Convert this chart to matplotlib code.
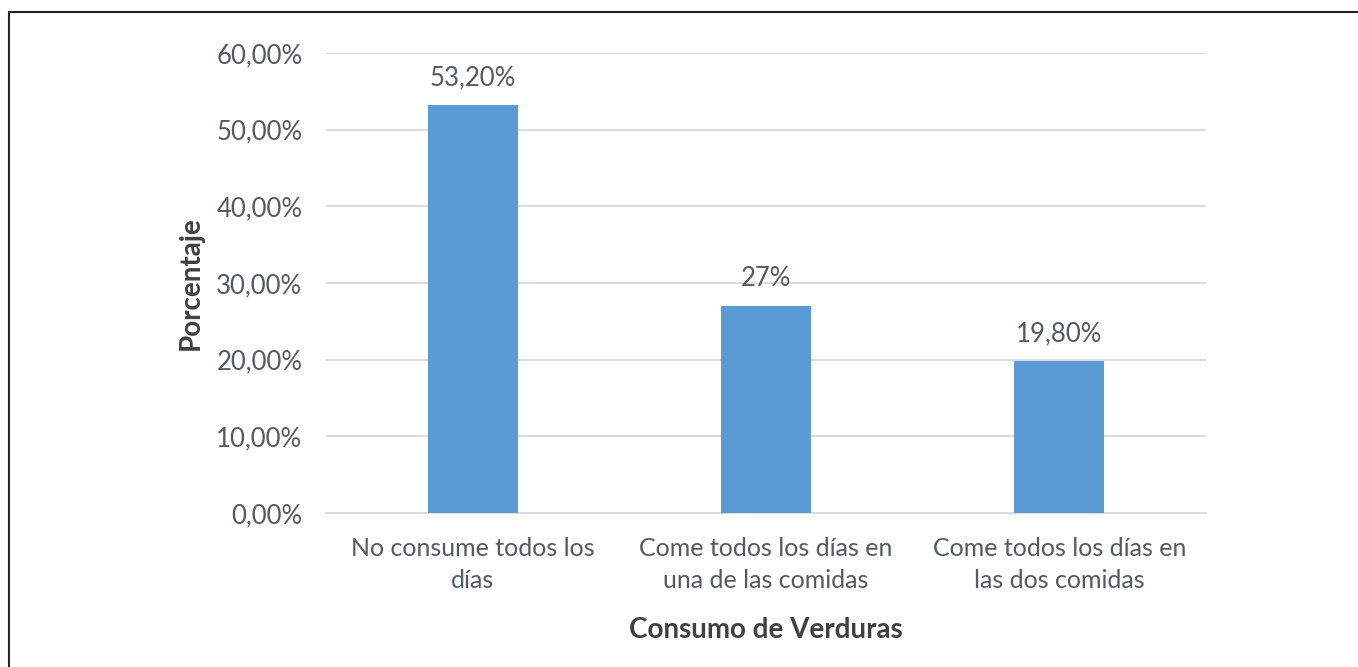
import matplotlib.pyplot as plt
from matplotlib.patches import Rectangle

# consumo de verduras por categoria (porcentaje)
categorias = ["No consume todos los\ndías",
              "Come todos los días en\nuna de las comidas",
              "Come todos los días en\nlas dos comidas"]
valores = [53.2, 27.0, 19.8]
etiquetas = ["53,20%", "27%", "19,80%"]
ticks_y = [0, 10, 20, 30, 40, 50, 60]

plt.rcParams['font.family'] = ['Lato', 'DejaVu Sans']
gris = "#555a5c"

fig = plt.figure(figsize=(13.58, 6.67), dpi=100)
ax = fig.add_axes([326 / 1358, 1 - 513 / 667, 880 / 1358, 460 / 667])

x = list(range(len(categorias)))
ax.bar(x, valores, width=0.307, color="#5B9BD5", zorder=3)
for xi, v, t in zip(x, valores, etiquetas):
    ax.text(xi, v + 1.9, t, ha="center", va="bottom", fontsize=18.5, color=gris)

ax.set_xlim(-0.5, 2.5)
ax.set_ylim(0, 60)
ax.set_yticks(ticks_y)
ax.set_yticklabels([f"{t},00%" for t in ticks_y])
ax.set_xticks(x)
ax.set_xticklabels(categorias, linespacing=1.5)
ax.tick_params(axis="both", length=0, labelsize=18.5, colors=gris)
ax.tick_params(axis="x", labelsize=18)
ax.tick_params(axis="y", pad=17)
ax.tick_params(axis="x", pad=17)
ax.grid(axis="y", color="#D9D9D9", linewidth=1.3, zorder=0)
for s in ["top", "right", "left"]:
    ax.spines[s].set_visible(False)
ax.spines["bottom"].set_color("#D9D9D9")
ax.spines["bottom"].set_linewidth(1.3)

ax.set_ylabel("Porcentaje", fontsize=20, fontweight="bold", color="#404040", labelpad=9)
ax.set_xlabel("Consumo de Verduras", fontsize=20, fontweight="bold", color="#404040", labelpad=18)

# marco exterior
fig.patches.append(Rectangle((9 / 1358, -0.1), 1.2, 1 - 12 / 667 + 0.1,
                             transform=fig.transFigure, fill=False,
                             edgecolor="#222222", linewidth=1.5))

fig.savefig("out.png", dpi=100)
